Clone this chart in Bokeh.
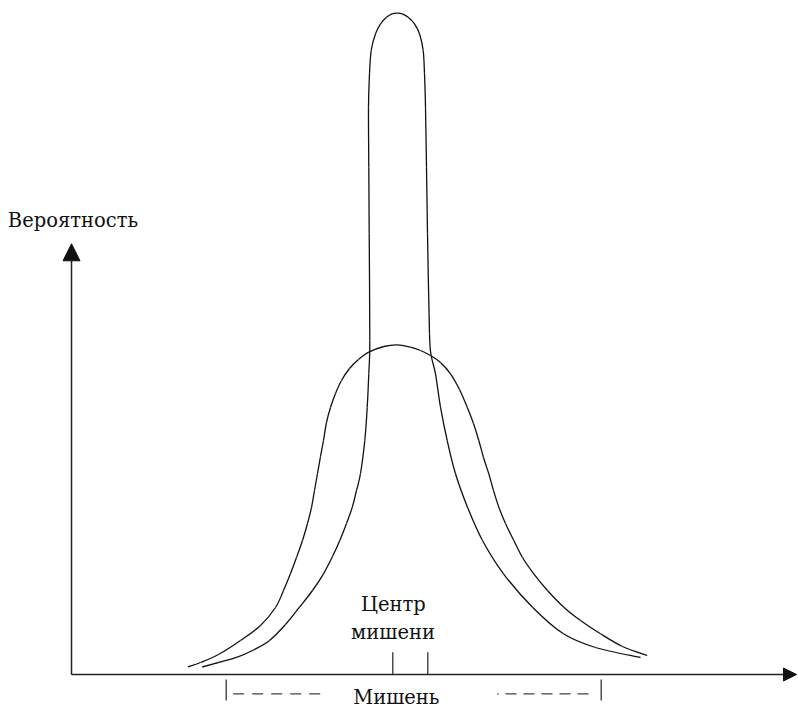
from bokeh.plotting import figure
from bokeh.models import Range1d, Arrow, NormalHead
from bokeh.core.properties import value
from bokeh.embed import file_html
from bokeh.resources import INLINE

# Narrow (tall) distribution curve (x offset, probability)
narrow_x = [130.7, 147, 165.7, 182, 198, 214, 228, 241, 252, 261, 268.3, 275, 280.7, 285, 289,
            293.3, 295.7, 297.3, 298.3, 297.7, 297.3, 297, 298, 299.7, 304, 309, 315, 320.7,
            325.7, 330.7, 336.7, 343, 348, 351.7, 353, 354, 355, 356, 358, 359.7, 364, 369,
            375.7, 384, 396, 411, 432, 461, 492, 524, 569]
narrow_y = [7.5, 12, 17.3, 24.5, 34, 50, 67.3, 84, 100.7, 118, 134, 151, 167, 184, 201,
            234, 267, 301, 334, 441, 507.3, 567.3, 600.7, 624, 640.7, 650.7, 657.3, 660.7,
            661.3, 660.7, 657.3, 650.7, 640.7, 624, 600.7, 567.3, 507.3, 441, 341, 319, 300.7, 267.3,
            234, 200.7, 167.3, 134, 100.7, 67.3, 40.7, 27, 17]

# Wide distribution curve
wide_x = [116.3, 129, 147, 169, 189, 204, 212, 219, 225, 231, 236, 240, 243, 246, 249, 252,
          255, 259, 264, 270, 278, 287, 297.3, 312.3, 325.7, 339, 349, 359, 369, 379, 388,
          395.7, 402, 407.3, 412, 417.3, 422, 427.3, 434, 442.3, 451, 462.3, 476, 492.3,
          509, 529, 551, 575.7]
wide_y = [7.5, 12, 20, 34, 49, 67, 84, 101, 117, 134, 151, 167, 184, 201, 218, 234,
          252, 267, 281, 294, 306, 315, 322.3, 328, 329.7, 327.3, 324, 319, 312, 300.7, 285,
          267.3, 251, 234, 217, 200.7, 184, 167.3, 151, 134, 117, 100.7, 84, 67.3,
          54, 40.7, 28, 19]

# Axes extents
x_axis_end = 725
y_axis_end = 430.7

# Target centre marks
centre_ticks_x = [321.3, 356.3]
centre_tick_top = 22.3

# Target bracket
target_ticks_x = [154.7, 529.7]
target_tick_y = [-5, -26]
target_dash_left = [161.7, 252.3]
target_dash_right = [434, 522.3]
target_dot = [425.7, 427.2]
target_dash_y = -19.3

labels = {"y": "Вероятность", "centre1": "Центр", "centre2": "мишени", "target": "Мишень"}

FONT = value("DejaVu Serif")
FS = "19.5px"
INK = "#111111"


def bezier_parts(xs, ys):
    """Smooth path through the read points (Catmull-Rom converted to cubic Bezier)."""
    n = len(xs)
    out = {k: [] for k in ("x0", "y0", "x1", "y1", "cx0", "cy0", "cx1", "cy1")}
    for i in range(n - 1):
        a = i - 1 if i > 0 else i
        d = i + 2 if i + 2 < n else i + 1
        out["x0"].append(xs[i]); out["y0"].append(ys[i])
        out["x1"].append(xs[i + 1]); out["y1"].append(ys[i + 1])
        out["cx0"].append(xs[i] + (xs[i + 1] - xs[a]) / 6)
        out["cy0"].append(ys[i] + (ys[i + 1] - ys[a]) / 6)
        out["cx1"].append(xs[i + 1] - (xs[d] - xs[i]) / 6)
        out["cy1"].append(ys[i + 1] - (ys[d] - ys[i]) / 6)
    return out


p = figure(width=798, height=710, x_range=Range1d(-71, 727), y_range=Range1d(-36, 674),
           output_backend="svg", toolbar_location=None, min_border=0)
p.axis.visible = False
p.grid.visible = False
p.outline_line_color = None
p.background_fill_color = "white"
p.border_fill_color = "white"

# axes with arrows
p.add_layout(Arrow(end=NormalHead(size=17, fill_color=INK, line_color=INK, line_width=1),
                   x_start=0, y_start=0, x_end=0, y_end=y_axis_end,
                   line_color="#222222", line_width=1.5))
p.add_layout(Arrow(end=NormalHead(size=13, fill_color=INK, line_color=INK, line_width=1),
                   x_start=0, y_start=0, x_end=x_axis_end, y_end=0,
                   line_color="#222222", line_width=1.5))

# curves
for xs, ys in ((wide_x, wide_y), (narrow_x, narrow_y)):
    b = bezier_parts(xs, ys)
    p.bezier(x0=b["x0"], y0=b["y0"], x1=b["x1"], y1=b["y1"],
             cx0=b["cx0"], cy0=b["cy0"], cx1=b["cx1"], cy1=b["cy1"],
             line_color=INK, line_width=1.3)

# centre ticks
p.segment(x0=centre_ticks_x, y0=[0, 0], x1=centre_ticks_x, y1=[centre_tick_top] * 2,
          line_color="#222222", line_width=1.2)

# target bracket
p.segment(x0=target_ticks_x, y0=[target_tick_y[0]] * 2, x1=target_ticks_x,
          y1=[target_tick_y[1]] * 2, line_color="#222222", line_width=1.2)
p.line(target_dash_left, [target_dash_y] * 2, line_color="#444444", line_width=1.3,
       line_dash="11 8")
p.line(target_dash_right, [target_dash_y] * 2, line_color="#444444", line_width=1.3,
       line_dash="11 7")
p.line(target_dot, [target_dash_y] * 2, line_color="#444444", line_width=1.3)

# texts
p.text(x=[-63.7], y=[454.3], text=[labels["y"]], text_font=FONT, text_font_size=FS,
       text_color=INK, text_align="left", text_baseline="alphabetic")
p.text(x=[321.8], y=[70.3], text=[labels["centre1"]], text_font=FONT, text_font_size=FS,
       text_color=INK, text_align="center", text_baseline="alphabetic")
p.text(x=[321.5], y=[41.7], text=[labels["centre2"]], text_font=FONT, text_font_size=FS,
       text_color=INK, text_align="center", text_baseline="alphabetic")
p.text(x=[324.8], y=[-22.5], text=[labels["target"]], text_font=FONT, text_font_size=FS,
       text_color=INK, text_align="center", text_baseline="alphabetic")

open("out.html", "w").write(file_html(p, INLINE))
